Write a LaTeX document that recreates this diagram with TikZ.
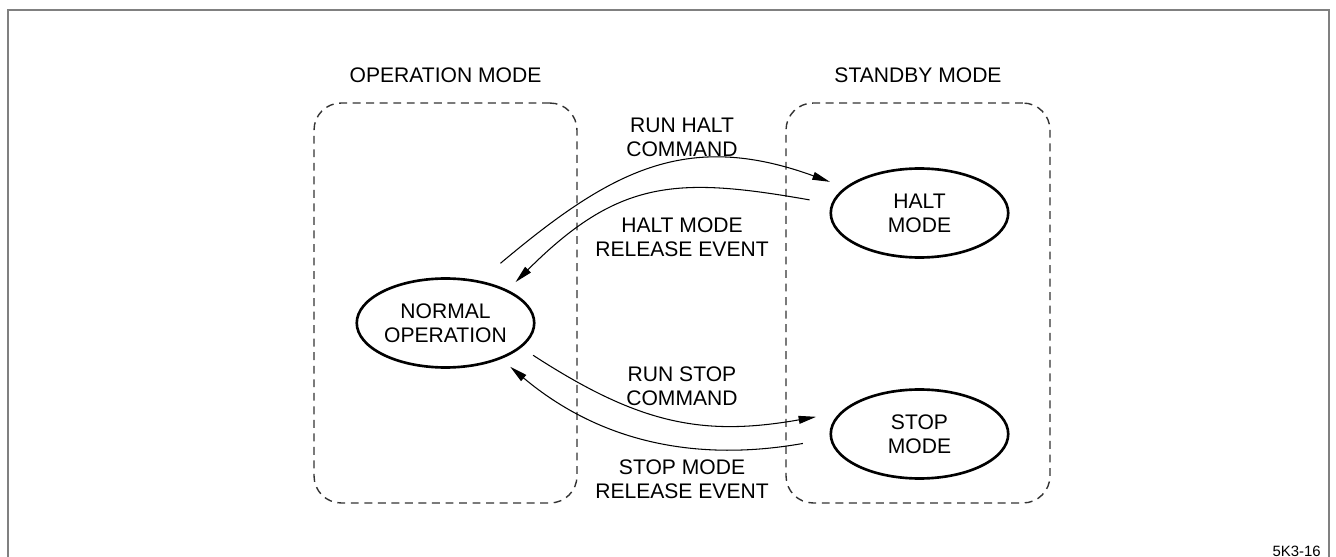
\documentclass[tikz,border=0pt]{standalone}
\usepackage{fontspec}
\setmainfont{Liberation Sans}
\usetikzlibrary{arrows.meta,shapes.geometric}
\newcommand{\lblfont}{\fontsize{12}{13.6}\selectfont}

\begin{document}
\begin{tikzpicture}[x=0.02cm, y=-0.02cm,
    modebox/.style={draw=black!80, line width=0.8pt, dash pattern=on 4.5pt off 3.2pt, rounded corners=0.54cm, minimum height=8cm},
    state/.style={ellipse, draw=black, line width=1.5pt, minimum width=3.55cm, minimum height=1.78cm, inner sep=0pt, align=center, font=\lblfont},
    lbl/.style={align=center, font=\lblfont},
    flow/.style={-{Triangle[length=10pt,width=4.5pt]}, line width=0.6pt}]
  \useasboundingbox (0,0) rectangle (1336,557);
  \draw[black!50, line width=0.6pt] (8,557) -- (8,10) -- (1329,10) -- (1329,557);

  % the two modes
  \node[modebox, minimum width=5.26cm] at (445.5,303) (opmode) {};
  \node[modebox, minimum width=5.28cm] at (918,303) (sbmode) {};
  \node[lbl] at (445.5,75.5) (optitle) {OPERATION MODE};
  \node[lbl] at (918,75.5) (sbtitle) {STANDBY MODE};

  % states
  \node[state] at (445.5,323) (normal) {NORMAL\\OPERATION};
  \node[state] at (919.5,213) (halt) {HALT\\MODE};
  \node[state] at (919.5,434) (stop) {STOP\\MODE};

  % transitions
  \draw[flow, shorten <=0.54cm, shorten >=0.32cm] (normal.51) to[out=40, in=160, looseness=1.15] (halt.161);
  \draw[flow, shorten <=0.44cm, shorten >=0.22cm] (halt.174) to[out=170, in=45, looseness=1.2] (normal.28);
  \draw[flow, shorten <=0.28cm, shorten >=0.48cm] (normal.-18) to[out=-33, in=190, looseness=1.1] (stop.165);
  \draw[flow, shorten <=0.55cm, shorten >=0.24cm] (stop.183) to[out=190, in=320] (normal.-33);
  \node[lbl] at (682,137.5) (runhalt) {RUN HALT\\COMMAND};
  \node[lbl] at (682,237.5) (haltrel) {HALT MODE\\RELEASE EVENT};
  \node[lbl] at (682,386.5) (runstop) {RUN STOP\\COMMAND};
  \node[lbl] at (682,479.5) (stoprel) {STOP MODE\\RELEASE EVENT};

  \node[font=\fontsize{8.5}{10}\selectfont, anchor=base east] at (1327,556) (figtag) {5K3-16};
\end{tikzpicture}
\end{document}
